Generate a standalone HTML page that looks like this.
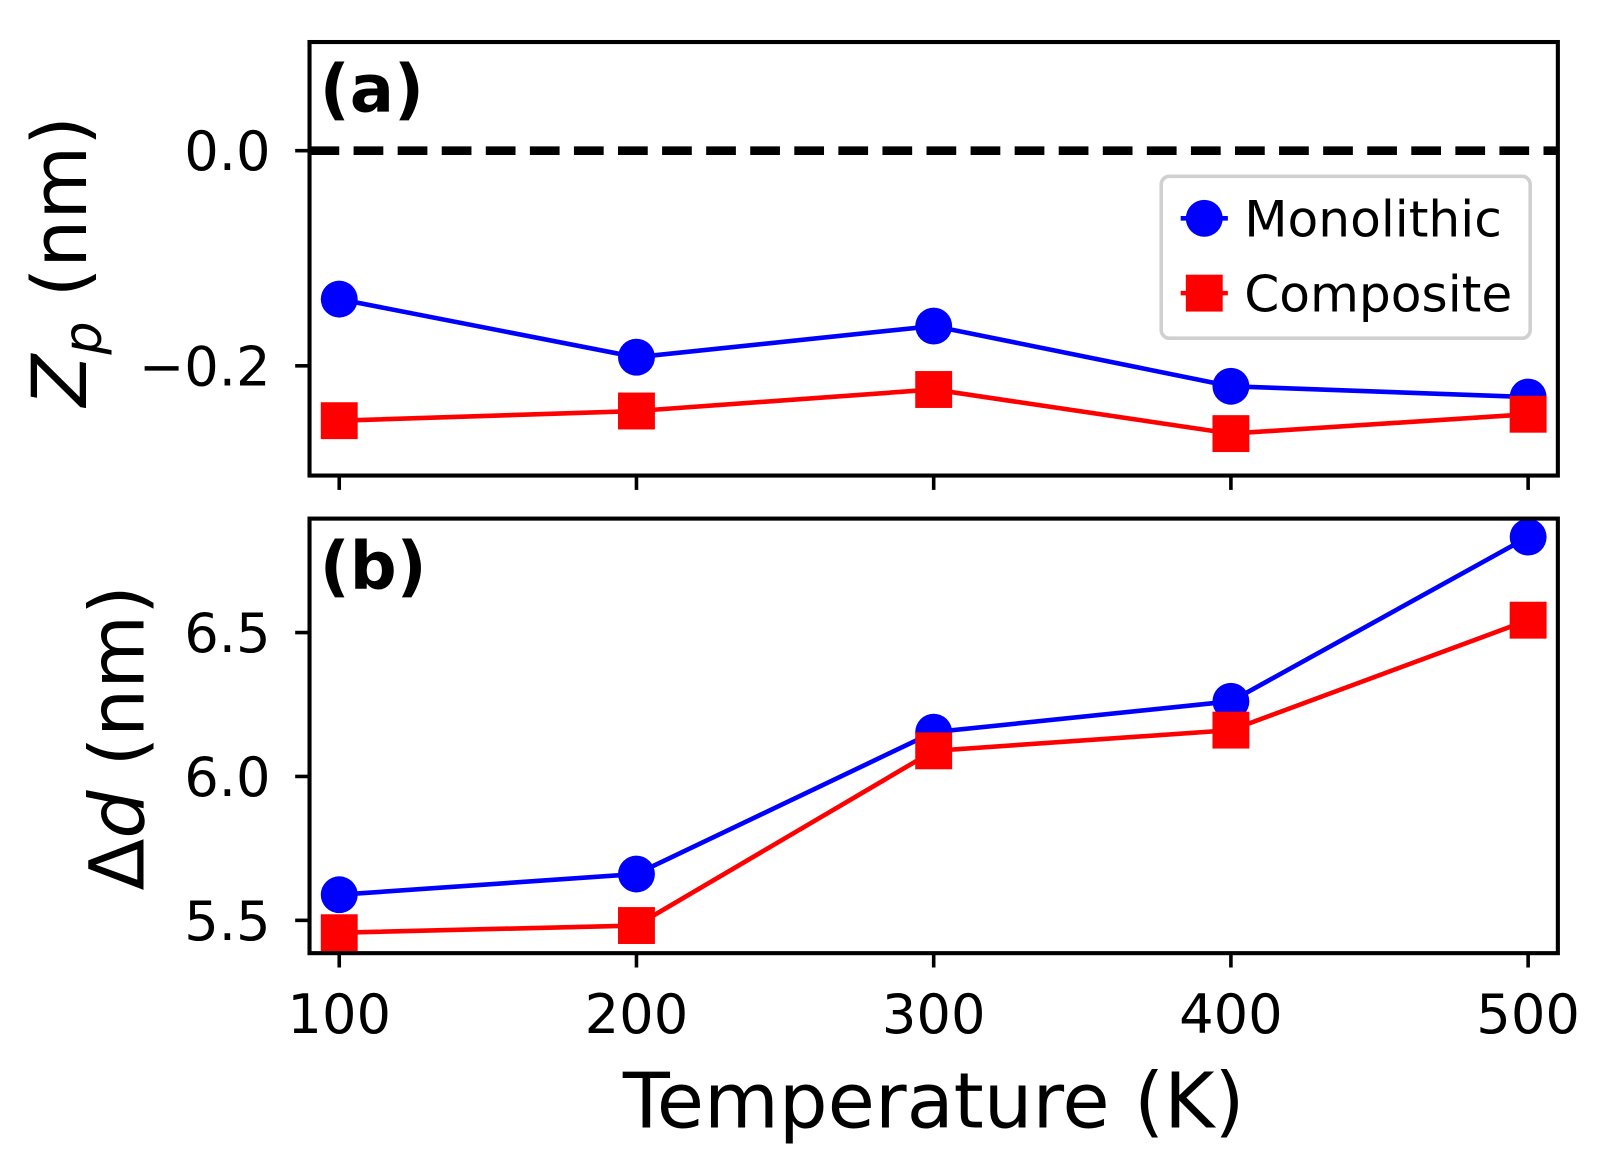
<!DOCTYPE html>
<html><head><meta charset="utf-8"><style>
html,body{margin:0;padding:0;background:#fff;}
svg{display:block;}
text{font-family:"DejaVu Sans","Liberation Sans",sans-serif;fill:#000;}
</style></head><body>
<svg id="chart" width="1605" height="1173" viewBox="0 0 1566 1144.5" preserveAspectRatio="none" xmlns="http://www.w3.org/2000/svg">
<g id="root"></g>
</svg>
<script>
const temps = [100, 200, 300, 400, 500];
const zpMono = [-0.138, -0.192, -0.163, -0.219, -0.229];
const zpComp = [-0.251, -0.242, -0.222, -0.263, -0.245];
const ddMono = [5.589, 5.661, 6.154, 6.261, 6.832];
const ddComp = [5.457, 5.482, 6.089, 6.161, 6.543];
const xTicks = [100, 200, 300, 400, 500];
const xTickLabels = ['100', '200', '300', '400', '500'];
const aTicks = [0.0, -0.2];
const aTickLabels = ['0.0', '\u22120.2'];
const bTicks = [5.5, 6.0, 6.5];
const bTickLabels = ['5.5', '6.0', '6.5'];

const NS = 'http://www.w3.org/2000/svg';
const root = document.getElementById('root');
function mk(tag, attrs, parent) {
  const e = document.createElementNS(NS, tag);
  for (const k in attrs) e.setAttribute(k, attrs[k]);
  (parent || root).appendChild(e);
  return e;
}
const L = 302, R = 1520;
const pa = {top: 41, bot: 464, min: -0.302, max: 0.101};
const pb = {top: 506, bot: 930, min: 5.386, max: 6.896};
function xs(v) { return 331 + (v - 100) * (1491 - 331) / 400; }
function ys(p, v) { return p.bot - (v - p.min) * (p.bot - p.top) / (p.max - p.min); }

function panel(p, name, ticks, labels, label, series) {
  const g = mk('g', {});
  
  
  ticks.forEach((t, i) => {
    const y = ys(p, t);
    const tk = mk('line', {x1: L - 14, x2: L, y1: y, y2: y, stroke: '#000', 'stroke-width': 3.5}, g);
    
    
    const tx = mk('text', {x: L - 38, y: y + 19, 'font-size': 53, 'text-anchor': 'end'}, g);
    tx.textContent = labels[i];
    
    
  });
  xTicks.forEach((t) => {
    const x = xs(t);
    const tk = mk('line', {x1: x, x2: x, y1: p.bot, y2: p.bot + 14, stroke: '#000', 'stroke-width': 3.5}, g);
    
    
  });
  if (name === 'panel-a') {
    const d = mk('line', {x1: L, x2: R, y1: ys(p, 0), y2: ys(p, 0), stroke: '#000', 'stroke-width': 8.5, 'stroke-dasharray': '29,14'}, g);
    
    
  }
  series.forEach(s => {
    const pts = temps.map((t, i) => xs(t) + ',' + ys(p, s.vals[i])).join(' ');
    const pl = mk('polyline', {points: pts, fill: 'none', stroke: s.color, 'stroke-width': 4.5}, g);
    
    
    temps.forEach((t, i) => {
      const x = xs(t), y = ys(p, s.vals[i]);
      let m;
      if (s.shape === 'circle') m = mk('circle', {cx: x, cy: y, r: 18, fill: s.color}, g);
      else m = mk('rect', {x: x - 18, y: y - 18, width: 36, height: 36, fill: s.color}, g);
      
      
    });
  });
  const fr = mk('rect', {x: L, y: p.top, width: R - L, height: p.bot - p.top, fill: 'none', stroke: '#000', 'stroke-width': 4}, g);
  
  
  const pl = mk('text', {x: L + 10, y: p.top + 68, 'font-size': 64, 'font-weight': 'bold'}, g);
  pl.textContent = label;
  
  
}

panel(pa, 'panel-a', aTicks, aTickLabels, '(a)', [
  {name: 'monolithic', vals: zpMono, color: '#0000ff', shape: 'circle'},
  {name: 'composite', vals: zpComp, color: '#ff0000', shape: 'square'}]);
panel(pb, 'panel-b', bTicks, bTickLabels, '(b)', [
  {name: 'monolithic', vals: ddMono, color: '#0000ff', shape: 'circle'},
  {name: 'composite', vals: ddComp, color: '#ff0000', shape: 'square'}]);

xTicks.forEach((t, i) => {
  const tx = mk('text', {x: xs(t), y: 1008, 'font-size': 53, 'text-anchor': 'middle'});
  tx.textContent = xTickLabels[i];
  
  
});
</script>
<svg style="position:absolute;left:0;top:0" width="1605" height="1173" viewBox="0 0 1566 1144.5" preserveAspectRatio="none" xmlns="http://www.w3.org/2000/svg">
  <text x="911" y="1100" font-size="75" text-anchor="middle">Temperature (K)</text>
  <text transform="translate(84,255) rotate(-90)" font-size="74" text-anchor="middle"><tspan font-style="italic">Z</tspan><tspan font-style="italic" font-size="51" dy="14">p</tspan><tspan dy="-14">  (nm)</tspan></text>
  <text transform="translate(140,720) rotate(-90)" font-size="74" text-anchor="middle">Δ<tspan font-style="italic">d</tspan> (nm)</text>
  <g>
    <rect x="1133" y="172" width="360" height="158" rx="8" fill="#fff" fill-opacity="0.8" stroke="#d0d0d0" stroke-width="3.5"/>
    <g>
      <line x1="1152" x2="1198" y1="213" y2="213" stroke="#0000ff" stroke-width="4.5"/>
      <circle cx="1175" cy="213" r="18" fill="#0000ff"/>
      <text x="1214" y="231" font-size="49">Monolithic</text>
    </g>
    <g>
      <line x1="1152" x2="1198" y1="286" y2="286" stroke="#ff0000" stroke-width="4.5"/>
      <rect x="1157" y="268" width="36" height="36" fill="#ff0000"/>
      <text x="1214" y="304" font-size="49">Composite</text>
    </g>
  </g>
</svg>
</body></html>
